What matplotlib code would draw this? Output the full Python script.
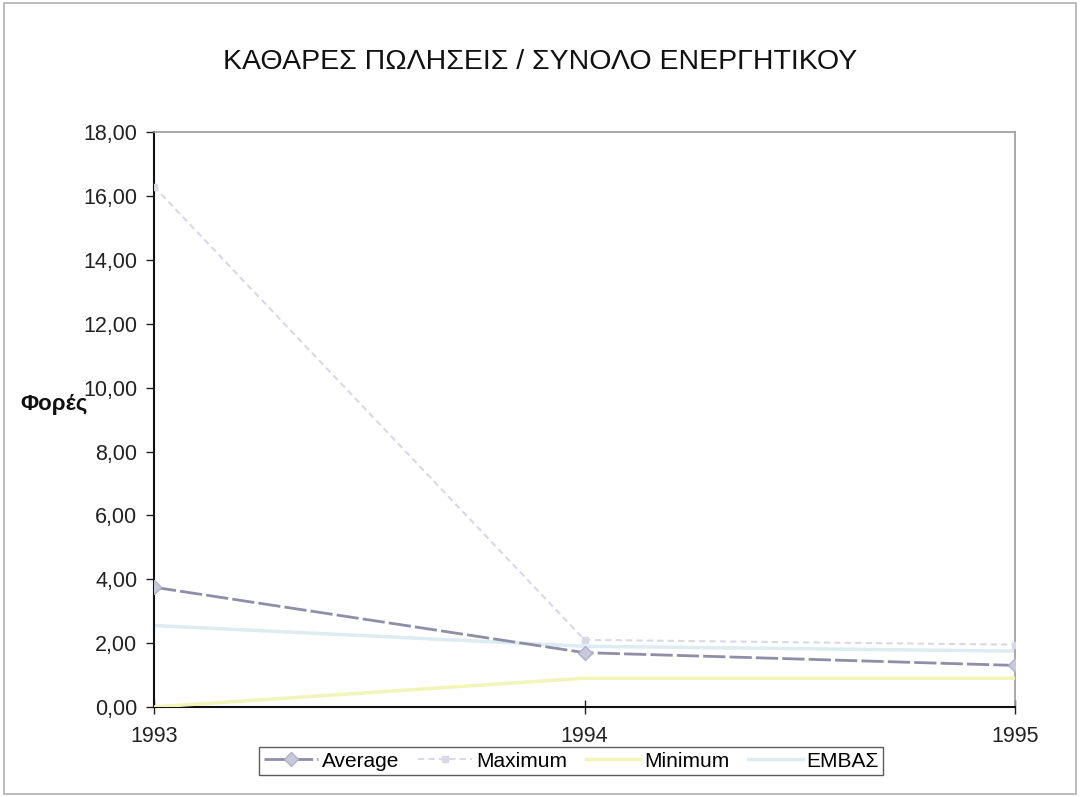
import matplotlib
matplotlib.use('Agg')
import matplotlib.pyplot as plt
from matplotlib.patches import Rectangle

plt.rcParams['font.family'] = ['Liberation Sans', 'DejaVu Sans']

years = ['1993', '1994', '1995']
average = [3.75, 1.70, 1.30]
maximum = [16.30, 2.10, 1.95]
minimum = [0.00, 0.90, 0.90]
embas = [2.55, 1.90, 1.75]
yticks = [0, 2, 4, 6, 8, 10, 12, 14, 16, 18]

fig = plt.figure(figsize=(10.8, 7.97), dpi=100)
ax = fig.add_axes([0.1426, 0.113, 0.7974, 0.721])

x = range(len(years))
ax.plot(x, embas, color='#dcecf0', lw=2.5, label='ΕΜΒΑΣ', zorder=2)
ax.plot(x, minimum, color='#f2f4b8', lw=2.5, label='Minimum', zorder=3)
ax.plot(x, maximum, color='#d8d8e6', lw=1.5, ls=(0, (3, 2)), marker='s',
        ms=4, mfc='#d8d8e6', mec='#d8d8e6', label='Maximum', zorder=4)
ax.plot(x, average, color='#8e8ea8', lw=2, ls=(0, (8, 1.5)), marker='D',
        ms=7, mfc='#c8c8de', mec='#b0b0c8', label='Average', zorder=5)

ax.set_xlim(0, 2)
ax.set_ylim(0, 18)
ax.set_xticks(list(x))
ax.set_xticklabels(years)
ax.set_yticks(yticks)
ax.yaxis.set_major_formatter(plt.FuncFormatter(lambda v, p: ('%.2f' % v).replace('.', ',')))
ax.tick_params(axis='both', labelsize=15.5, colors='#222222', length=6, width=1)
ax.tick_params(axis='y', direction='out', pad=6)
ax.tick_params(axis='x', direction='inout', length=10, pad=9)

for s in ['left', 'bottom']:
    ax.spines[s].set_color('#111111')
    ax.spines[s].set_linewidth(1.5)
for s in ['top', 'right']:
    ax.spines[s].set_color('#9a9a9a')
    ax.spines[s].set_linewidth(1.2)

fig.text(0.5, 0.922, 'ΚΑΘΑΡΕΣ ΠΩΛΗΣΕΙΣ / ΣΥΝΟΛΟ ΕΝΕΡΓΗΤΙΚΟΥ', ha='center',
         va='center', fontsize=20.5, color='#111111')
fig.text(0.019, 0.492, 'Φορές', ha='left', va='center', fontsize=16,
         fontweight='bold', color='#111111')

handles, labels = ax.get_legend_handles_labels()
order = [3, 2, 1, 0]
leg = fig.legend([handles[i] for i in order], [labels[i] for i in order],
                 loc='center', bbox_to_anchor=(0.529, 0.045), ncol=4,
                 fontsize=15, frameon=True, fancybox=False, edgecolor='#333333',
                 handlelength=2.6, columnspacing=0.9, handletextpad=0.2,
                 borderpad=0.2)
leg.get_frame().set_linewidth(1.0)

fig.patches.append(Rectangle((0.004, 0.004), 0.992, 0.992, transform=fig.transFigure,
                             fill=False, edgecolor='#b0b0b0', lw=1.2))

fig.savefig('out.png', dpi=100)
plt.close('all')
